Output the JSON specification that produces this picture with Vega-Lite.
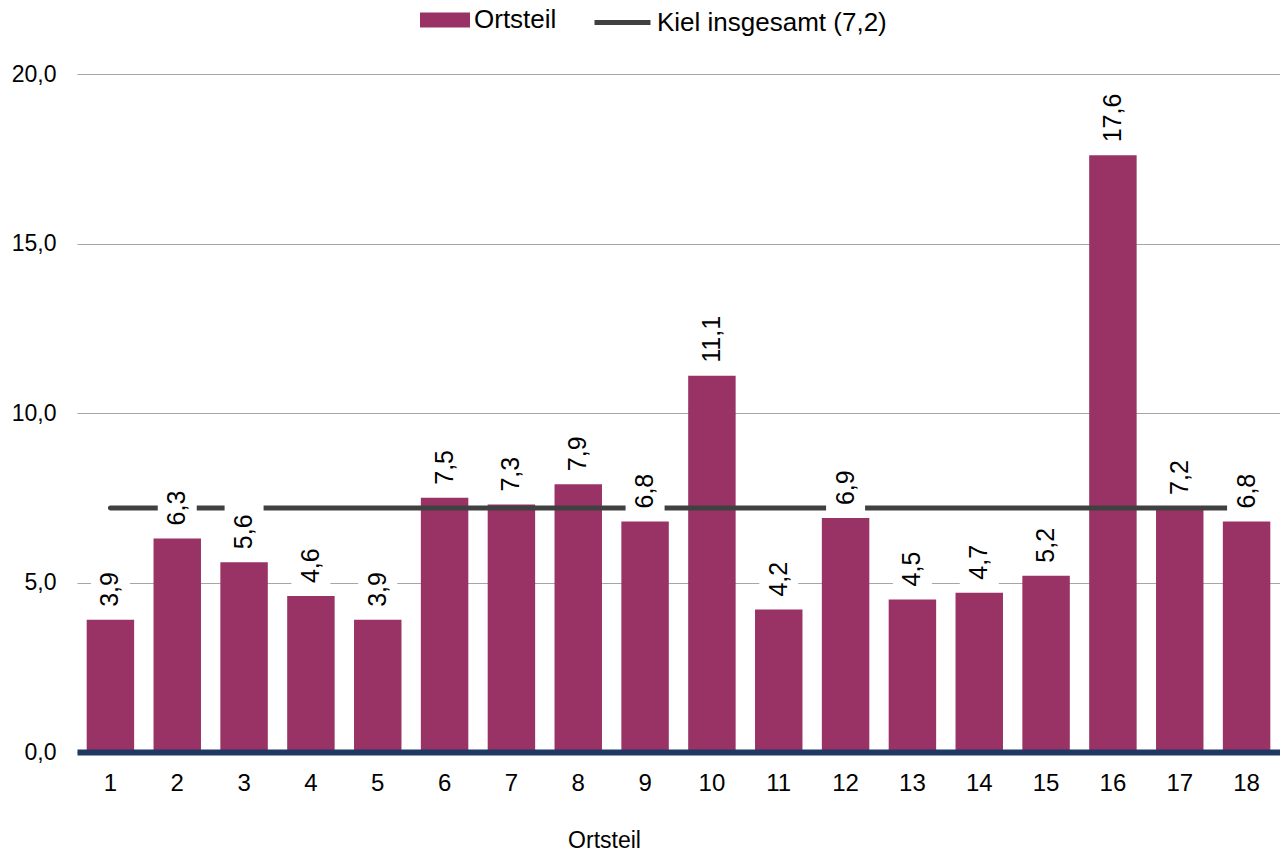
{
  "$schema": "https://vega.github.io/schema/vega-lite/v6.json",
  "width": 1203,
  "height": 678,
  "autosize": {"type": "none"},
  "padding": {"left": 77, "top": 74, "right": 0, "bottom": 102},
  "background": "white",
  "config": {
    "view": {"stroke": null},
    "font": "Liberation Sans",
    "locale": {"number": {"decimal": ",", "thousands": ".", "grouping": [3], "currency": ["", " €"]}}
  },
  "data": {
    "values": [
      {"o": 1, "v": 3.9}, {"o": 2, "v": 6.3}, {"o": 3, "v": 5.6}, {"o": 4, "v": 4.6},
      {"o": 5, "v": 3.9}, {"o": 6, "v": 7.5}, {"o": 7, "v": 7.3}, {"o": 8, "v": 7.9},
      {"o": 9, "v": 6.8}, {"o": 10, "v": 11.1}, {"o": 11, "v": 4.2}, {"o": 12, "v": 6.9},
      {"o": 13, "v": 4.5}, {"o": 14, "v": 4.7}, {"o": 15, "v": 5.2}, {"o": 16, "v": 17.6},
      {"o": 17, "v": 7.2}, {"o": 18, "v": 6.8}
    ]
  },
  "encoding": {
    "x": {
      "field": "o",
      "type": "ordinal",
      "scale": {"paddingInner": 0.29, "paddingOuter": 0.145},
      "axis": {
        "title": "Ortsteil",
        "titleFontSize": 23,
        "titleFontWeight": "normal",
        "titleColor": "black",
        "titlePadding": 34,
        "titleX": 527,
        "titleAnchor": null,
        "titleAlign": "center",
        "labelAngle": 0,
        "labelFontSize": 24,
        "labelColor": "black",
        "labelPadding": 19,
        "ticks": false,
        "domainColor": "#1f3864",
        "domainWidth": 6,
        "zindex": 1
      }
    }
  },
  "layer": [
    {
      "mark": {"type": "bar", "color": "#993366"},
      "encoding": {
        "y": {
          "field": "v",
          "type": "quantitative",
          "scale": {"domain": [0, 20], "nice": false},
          "axis": {
            "title": null,
            "domain": false,
            "ticks": false,
            "grid": true,
            "gridColor": "#a6a6a6",
            "gridWidth": 1,
            "labelFontSize": 23,
            "labelColor": "black",
            "labelPadding": 21,
            "values": [0, 5, 10, 15, 20],
            "format": ".1f",
            "zindex": 0
          }
        },
        "color": {
          "datum": "Ortsteil",
          "scale": {"range": ["#993366"]},
          "legend": {
            "orient": "none",
            "legendX": 343,
            "legendY": -79,
            "title": null,
            "padding": 0,
            "symbolType": "M-1,-0.3H1V0.3H-1Z",
            "symbolSize": 2500,
            "symbolStrokeWidth": 0,
            "symbolOpacity": 1,
            "labelFontSize": 26,
            "labelColor": "black",
            "labelOffset": 4,
            "labelLimit": 0
          }
        }
      }
    },
    {
      "mark": {"type": "line", "strokeWidth": 5, "strokeCap": "round"},
      "encoding": {
        "y": {"datum": 7.2, "type": "quantitative"},
        "stroke": {
          "datum": "Kiel insgesamt (7,2)",
          "scale": {"range": ["#404040"]},
          "legend": {
            "orient": "none",
            "legendX": 515,
            "legendY": -82,
            "title": null,
            "padding": 0,
            "symbolType": "stroke",
            "symbolSize": 3136,
            "symbolStrokeWidth": 5,
            "labelFontSize": 26,
            "labelColor": "black",
            "labelOffset": 4,
            "labelLimit": 0
          }
        }
      }
    },
    {
      "mark": {
        "type": "point",
        "shape": "M-0.75,-1H0.75V1H-0.75Z",
        "size": 2704,
        "filled": true,
        "fill": "white",
        "opacity": 1,
        "strokeWidth": 0,
        "yOffset": -32
      },
      "encoding": {"y": {"field": "v", "type": "quantitative"}}
    },
    {
      "mark": {
        "type": "text",
        "angle": 270,
        "align": "left",
        "baseline": "middle",
        "dx": 13,
        "fontSize": 25,
        "color": "black"
      },
      "encoding": {
        "y": {"field": "v", "type": "quantitative"},
        "text": {"field": "v", "type": "quantitative", "format": ".1f"}
      }
    }
  ]
}
